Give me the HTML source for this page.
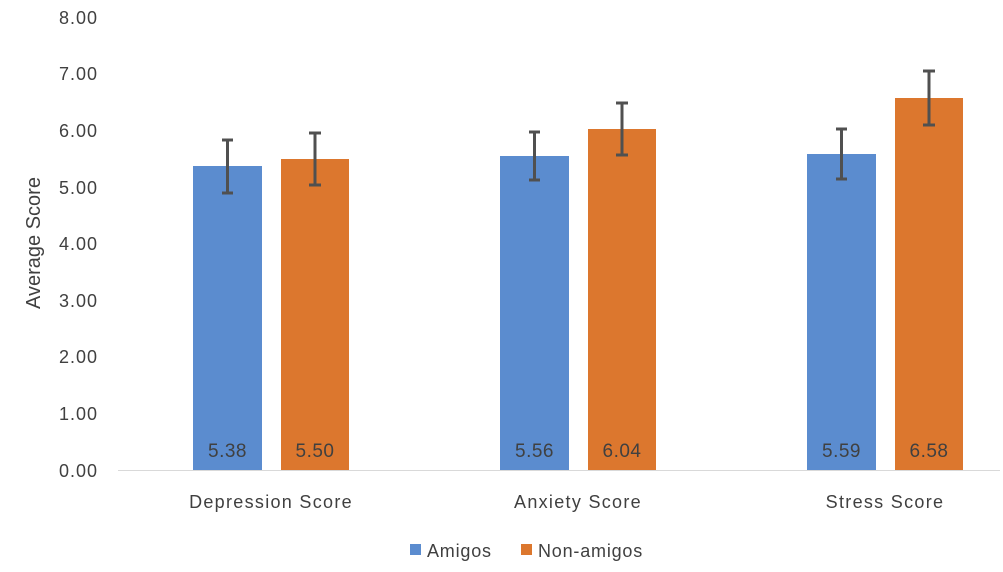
<!DOCTYPE html>
<html><head><style>body{margin:0;background:#fff}svg{display:block}</style></head><body>
<svg width="1003" height="572" xmlns="http://www.w3.org/2000/svg" font-family="Liberation Sans, sans-serif">
<g fill="#404040" font-size="18" text-anchor="end" letter-spacing="1">
<text x="98" y="477">0.00</text><text x="98" y="420">1.00</text><text x="98" y="363">2.00</text><text x="98" y="307">3.00</text><text x="98" y="250">4.00</text><text x="98" y="194">5.00</text><text x="98" y="137">6.00</text><text x="98" y="80">7.00</text><text x="98" y="24">8.00</text>
</g>
<text transform="translate(40,243) rotate(-90)" text-anchor="middle" font-size="20" fill="#404040">Average Score</text>
<line x1="118" y1="470.5" x2="1000" y2="470.5" stroke="#d9d9d9" stroke-width="1"/>
<g fill="#5b8ccf">
<rect x="193" y="166" width="69" height="304"/><rect x="500" y="156" width="69" height="314"/><rect x="807" y="154" width="69" height="316"/>
</g>
<g fill="#dc772e">
<rect x="281" y="159" width="68" height="311"/><rect x="588" y="129" width="68" height="341"/><rect x="895" y="98" width="68" height="372"/>
</g>
<g stroke="#505050" stroke-width="3" fill="none">
<path d="M227.5 140V193M222 140H233M222 193H233"/>
<path d="M315 133V185M309 133H321M309 185H321"/>
<path d="M534.5 132V180M529 132H540M529 180H540"/>
<path d="M622 103V155M616 103H628M616 155H628"/>
<path d="M841.5 129V179M836 129H847M836 179H847"/>
<path d="M929 71V125M923 71H935M923 125H935"/>
</g>
<g fill="#404040" font-size="19" text-anchor="middle" letter-spacing="0.5">
<text x="227.5" y="457">5.38</text><text x="315" y="457">5.50</text>
<text x="534.5" y="457">5.56</text><text x="622" y="457">6.04</text>
<text x="841.5" y="457">5.59</text><text x="929" y="457">6.58</text>
</g>
<g fill="#404040" font-size="18" text-anchor="middle" letter-spacing="1.3">
<text x="271" y="508">Depression Score</text><text x="578" y="508">Anxiety Score</text><text x="885" y="508">Stress Score</text>
</g>
<rect x="410" y="544" width="11" height="11" fill="#5b8ccf"/>
<text x="427" y="557" font-size="18" fill="#404040" letter-spacing="0.8">Amigos</text>
<rect x="521" y="544" width="11" height="11" fill="#dc772e"/>
<text x="538" y="557" font-size="18" fill="#404040" letter-spacing="0.8">Non-amigos</text>
</svg>
</body></html>
